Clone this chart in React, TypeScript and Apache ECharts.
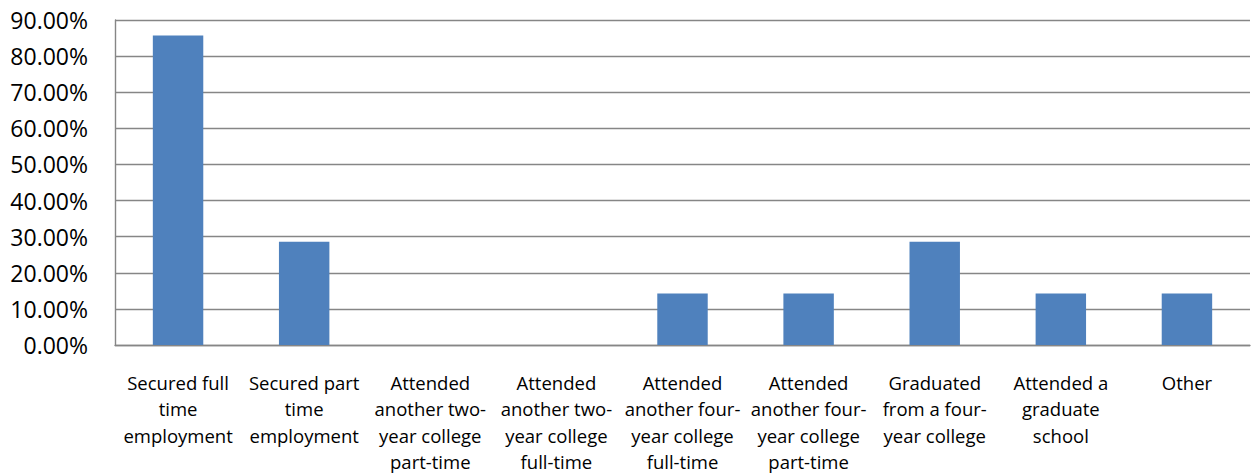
import React, { useEffect, useRef } from "react";
import * as echarts from "echarts";

const categories: string[] = [
  "Secured full\ntime\nemployment",
  "Secured part\ntime\nemployment",
  "Attended\nanother two-\nyear college\npart-time",
  "Attended\nanother two-\nyear college\nfull-time",
  "Attended\nanother four-\nyear college\nfull-time",
  "Attended\nanother four-\nyear college\npart-time",
  "Graduated\nfrom a four-\nyear college",
  "Attended a\ngraduate\nschool",
  "Other",
];

const values: number[] = [85.71, 28.57, 0, 0, 14.29, 14.29, 28.57, 14.29, 14.29];

const yMin = 0;
const yMax = 90;
const yStep = 10;

export default function App() {
  const ref = useRef<HTMLDivElement>(null);

  useEffect(() => {
    if (!ref.current) return;
    const chart = echarts.init(ref.current, null, { renderer: "svg" });
    chart.setOption({
      animation: false,
      backgroundColor: "#ffffff",
      grid: { left: 115, right: 7, top: 20, bottom: 128, containLabel: false },
      xAxis: {
        type: "category",
        data: categories,
        axisLine: { show: true, lineStyle: { color: "#868686", width: 1.4 } },
        axisTick: { show: false },
        axisLabel: {
          interval: 0,
          margin: 24,
          color: "#000000",
          fontFamily: "Open Sans",
          fontSize: 18.5,
          lineHeight: 26.5,
          align: "center",
        },
      },
      yAxis: {
        type: "value",
        min: yMin,
        max: yMax,
        interval: yStep,
        axisLine: { show: true, lineStyle: { color: "#868686", width: 1.4 } },
        axisTick: { show: false },
        splitLine: { show: true, lineStyle: { color: "#868686", width: 1.4 } },
        axisLabel: {
          margin: 27,
          color: "#000000",
          fontFamily: "Open Sans",
          fontSize: 23,
          formatter: (v: number) => v.toFixed(2) + "%",
        },
      },
      series: [
        {
          type: "bar",
          data: values,
          barCategoryGap: "60%",
          itemStyle: { color: "#4f81bd" },
        },
      ],
    });
    return () => chart.dispose();
  }, []);

  return (
    <div
      ref={ref}
      style={{ position: "fixed", left: 0, top: 0, width: 1257, height: 475 }}
    />
  );
}
